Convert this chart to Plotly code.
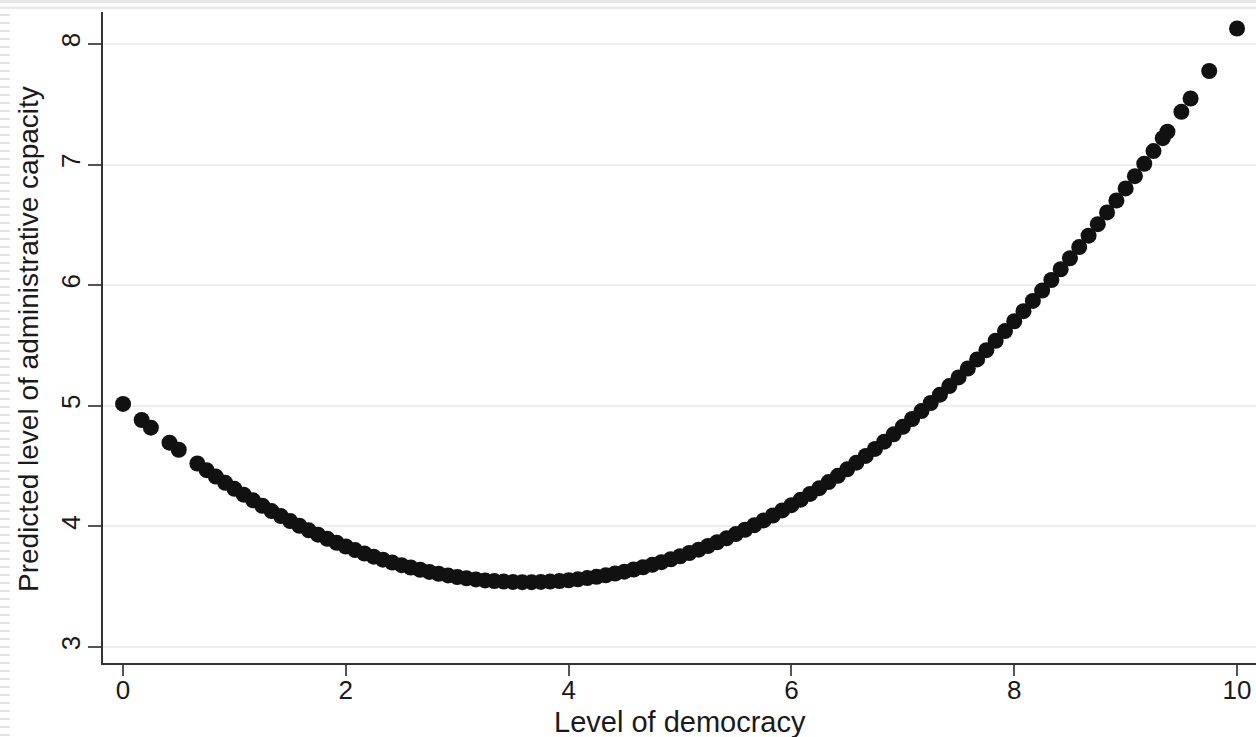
import plotly.graph_objects as go

# Level of democracy (x) and predicted level of administrative capacity (y)
democracy = [
    0.0, 0.167, 0.25, 0.417, 0.5, 0.667, 0.75, 0.833, 0.917, 1.0,
    1.083, 1.167, 1.25, 1.333, 1.417, 1.5, 1.583, 1.667, 1.75, 1.833,
    1.917, 2.0, 2.083, 2.167, 2.25, 2.333, 2.417, 2.5, 2.583, 2.667,
    2.75, 2.833, 2.917, 3.0, 3.083, 3.167, 3.25, 3.333, 3.417, 3.5,
    3.583, 3.667, 3.75, 3.833, 3.917, 4.0, 4.083, 4.167, 4.25, 4.333,
    4.417, 4.5, 4.583, 4.667, 4.75, 4.833, 4.917, 5.0, 5.083, 5.167,
    5.25, 5.333, 5.417, 5.5, 5.583, 5.667, 5.75, 5.833, 5.917, 6.0,
    6.083, 6.167, 6.25, 6.333, 6.417, 6.5, 6.583, 6.667, 6.75, 6.833,
    6.917, 7.0, 7.083, 7.167, 7.25, 7.333, 7.417, 7.5, 7.583, 7.667,
    7.75, 7.833, 7.917, 8.0, 8.083, 8.167, 8.25, 8.333, 8.417, 8.5,
    8.583, 8.667, 8.75, 8.833, 8.917, 9.0, 9.083, 9.167, 9.25, 9.333,
    9.375, 9.5, 9.583, 9.75, 10.0,
]
capacity = [
    5.015, 4.882, 4.818, 4.694, 4.635, 4.521, 4.466, 4.413, 4.361, 4.311,
    4.263, 4.216, 4.171, 4.127, 4.085, 4.044, 4.005, 3.967, 3.931, 3.897,
    3.864, 3.833, 3.803, 3.775, 3.749, 3.724, 3.700, 3.678, 3.658, 3.640,
    3.622, 3.607, 3.593, 3.580, 3.569, 3.560, 3.552, 3.546, 3.542, 3.539,
    3.537, 3.537, 3.539, 3.542, 3.547, 3.553, 3.561, 3.571, 3.582, 3.594,
    3.609, 3.624, 3.642, 3.661, 3.681, 3.703, 3.727, 3.752, 3.779, 3.807,
    3.837, 3.868, 3.901, 3.936, 3.972, 4.010, 4.049, 4.090, 4.132, 4.176,
    4.221, 4.269, 4.317, 4.367, 4.419, 4.473, 4.528, 4.584, 4.642, 4.702,
    4.763, 4.826, 4.890, 4.956, 5.023, 5.092, 5.163, 5.235, 5.309, 5.384,
    5.461, 5.539, 5.619, 5.701, 5.784, 5.869, 5.955, 6.043, 6.132, 6.223,
    6.316, 6.410, 6.506, 6.603, 6.702, 6.802, 6.904, 7.007, 7.112, 7.219,
    7.273, 7.437, 7.548, 7.776, 8.128,
]

x_ticks = [0, 2, 4, 6, 8, 10]
y_ticks = [3, 4, 5, 6, 7, 8]
x_title = "Level of democracy"
y_title = "Predicted level of administrative capacity"

W, H = 1256, 737
ML, MR, MT, MB = 103, 0, 12, 74
PW, PH = W - ML - MR, H - MT - MB
FONT = "Liberation Sans, Arial, sans-serif"
INK = "#1a1a1a"

fig = go.Figure()
fig.add_trace(go.Scatter(
    x=democracy, y=capacity, mode="markers",
    marker=dict(size=16, color="#111111", line=dict(width=0)),
    hoverinfo="x+y", showlegend=False,
))

def px_x(p):
    return (p - ML) / PW

def px_y(p):
    return (H - MB - p) / PH

shapes = []
# slide decoration: top double rule
shapes.append(dict(type="rect", xref="paper", yref="paper",
                   x0=px_x(0), x1=px_x(W), y0=px_y(3), y1=px_y(0),
                   fillcolor="#e8e8e8", line=dict(width=0), layer="below"))
shapes.append(dict(type="rect", xref="paper", yref="paper",
                   x0=px_x(0), x1=px_x(W), y0=px_y(9), y1=px_y(6.5),
                   fillcolor="#e8e8e8", line=dict(width=0), layer="below"))
# slide decoration: left stripes
for yy in range(14, H, 8):
    shapes.append(dict(type="rect", xref="paper", yref="paper",
                       x0=px_x(0), x1=px_x(10), y0=px_y(yy + 2), y1=px_y(yy),
                       fillcolor="#e2e2e2", line=dict(width=0), layer="below"))
fig.update_layout(shapes=shapes)

fig.update_layout(
    width=W, height=H,
    margin=dict(l=ML, r=MR, t=MT, b=MB, autoexpand=False),
    paper_bgcolor="white", plot_bgcolor="white",
    font=dict(family=FONT, color=INK),
    xaxis=dict(
        range=[-0.18, 10.17], tickvals=x_ticks, ticktext=[str(v) for v in x_ticks],
        showgrid=False, zeroline=False,
        showline=True, linecolor="#333333", linewidth=1.5,
        ticks="outside", ticklen=11, tickwidth=1.5, tickcolor="#555555",
        ticklabelstandoff=-8,
        tickfont=dict(size=26, family=FONT, color=INK),
        automargin=False,
    ),
    yaxis=dict(
        range=[2.867, 8.265], tickvals=y_ticks, ticktext=[str(v) for v in y_ticks],
        showgrid=True, gridcolor="#eeeeee", gridwidth=1.5, zeroline=False,
        showline=True, linecolor="#333333", linewidth=1.5,
        ticks="outside", ticklen=13, tickwidth=1.5, tickcolor="#555555",
        tickangle=-90, ticklabelstandoff=-2,
        tickfont=dict(size=26, family=FONT, color=INK),
        automargin=False,
    ),
    annotations=[
        dict(text=x_title, xref="paper", yref="paper", x=px_x(680), y=px_y(722),
             xanchor="center", yanchor="middle", showarrow=False,
             font=dict(size=29, family=FONT, color=INK)),
        dict(text=y_title, xref="paper", yref="paper", x=px_x(29), y=px_y(339),
             xanchor="center", yanchor="middle", showarrow=False, textangle=-90,
             font=dict(size=28, family=FONT, color=INK)),
    ],
)

fig.write_html(
    "out.html",
    config={"displayModeBar": False},
    post_script="document.body.style.margin='0';document.body.style.overflow='hidden';",
)
